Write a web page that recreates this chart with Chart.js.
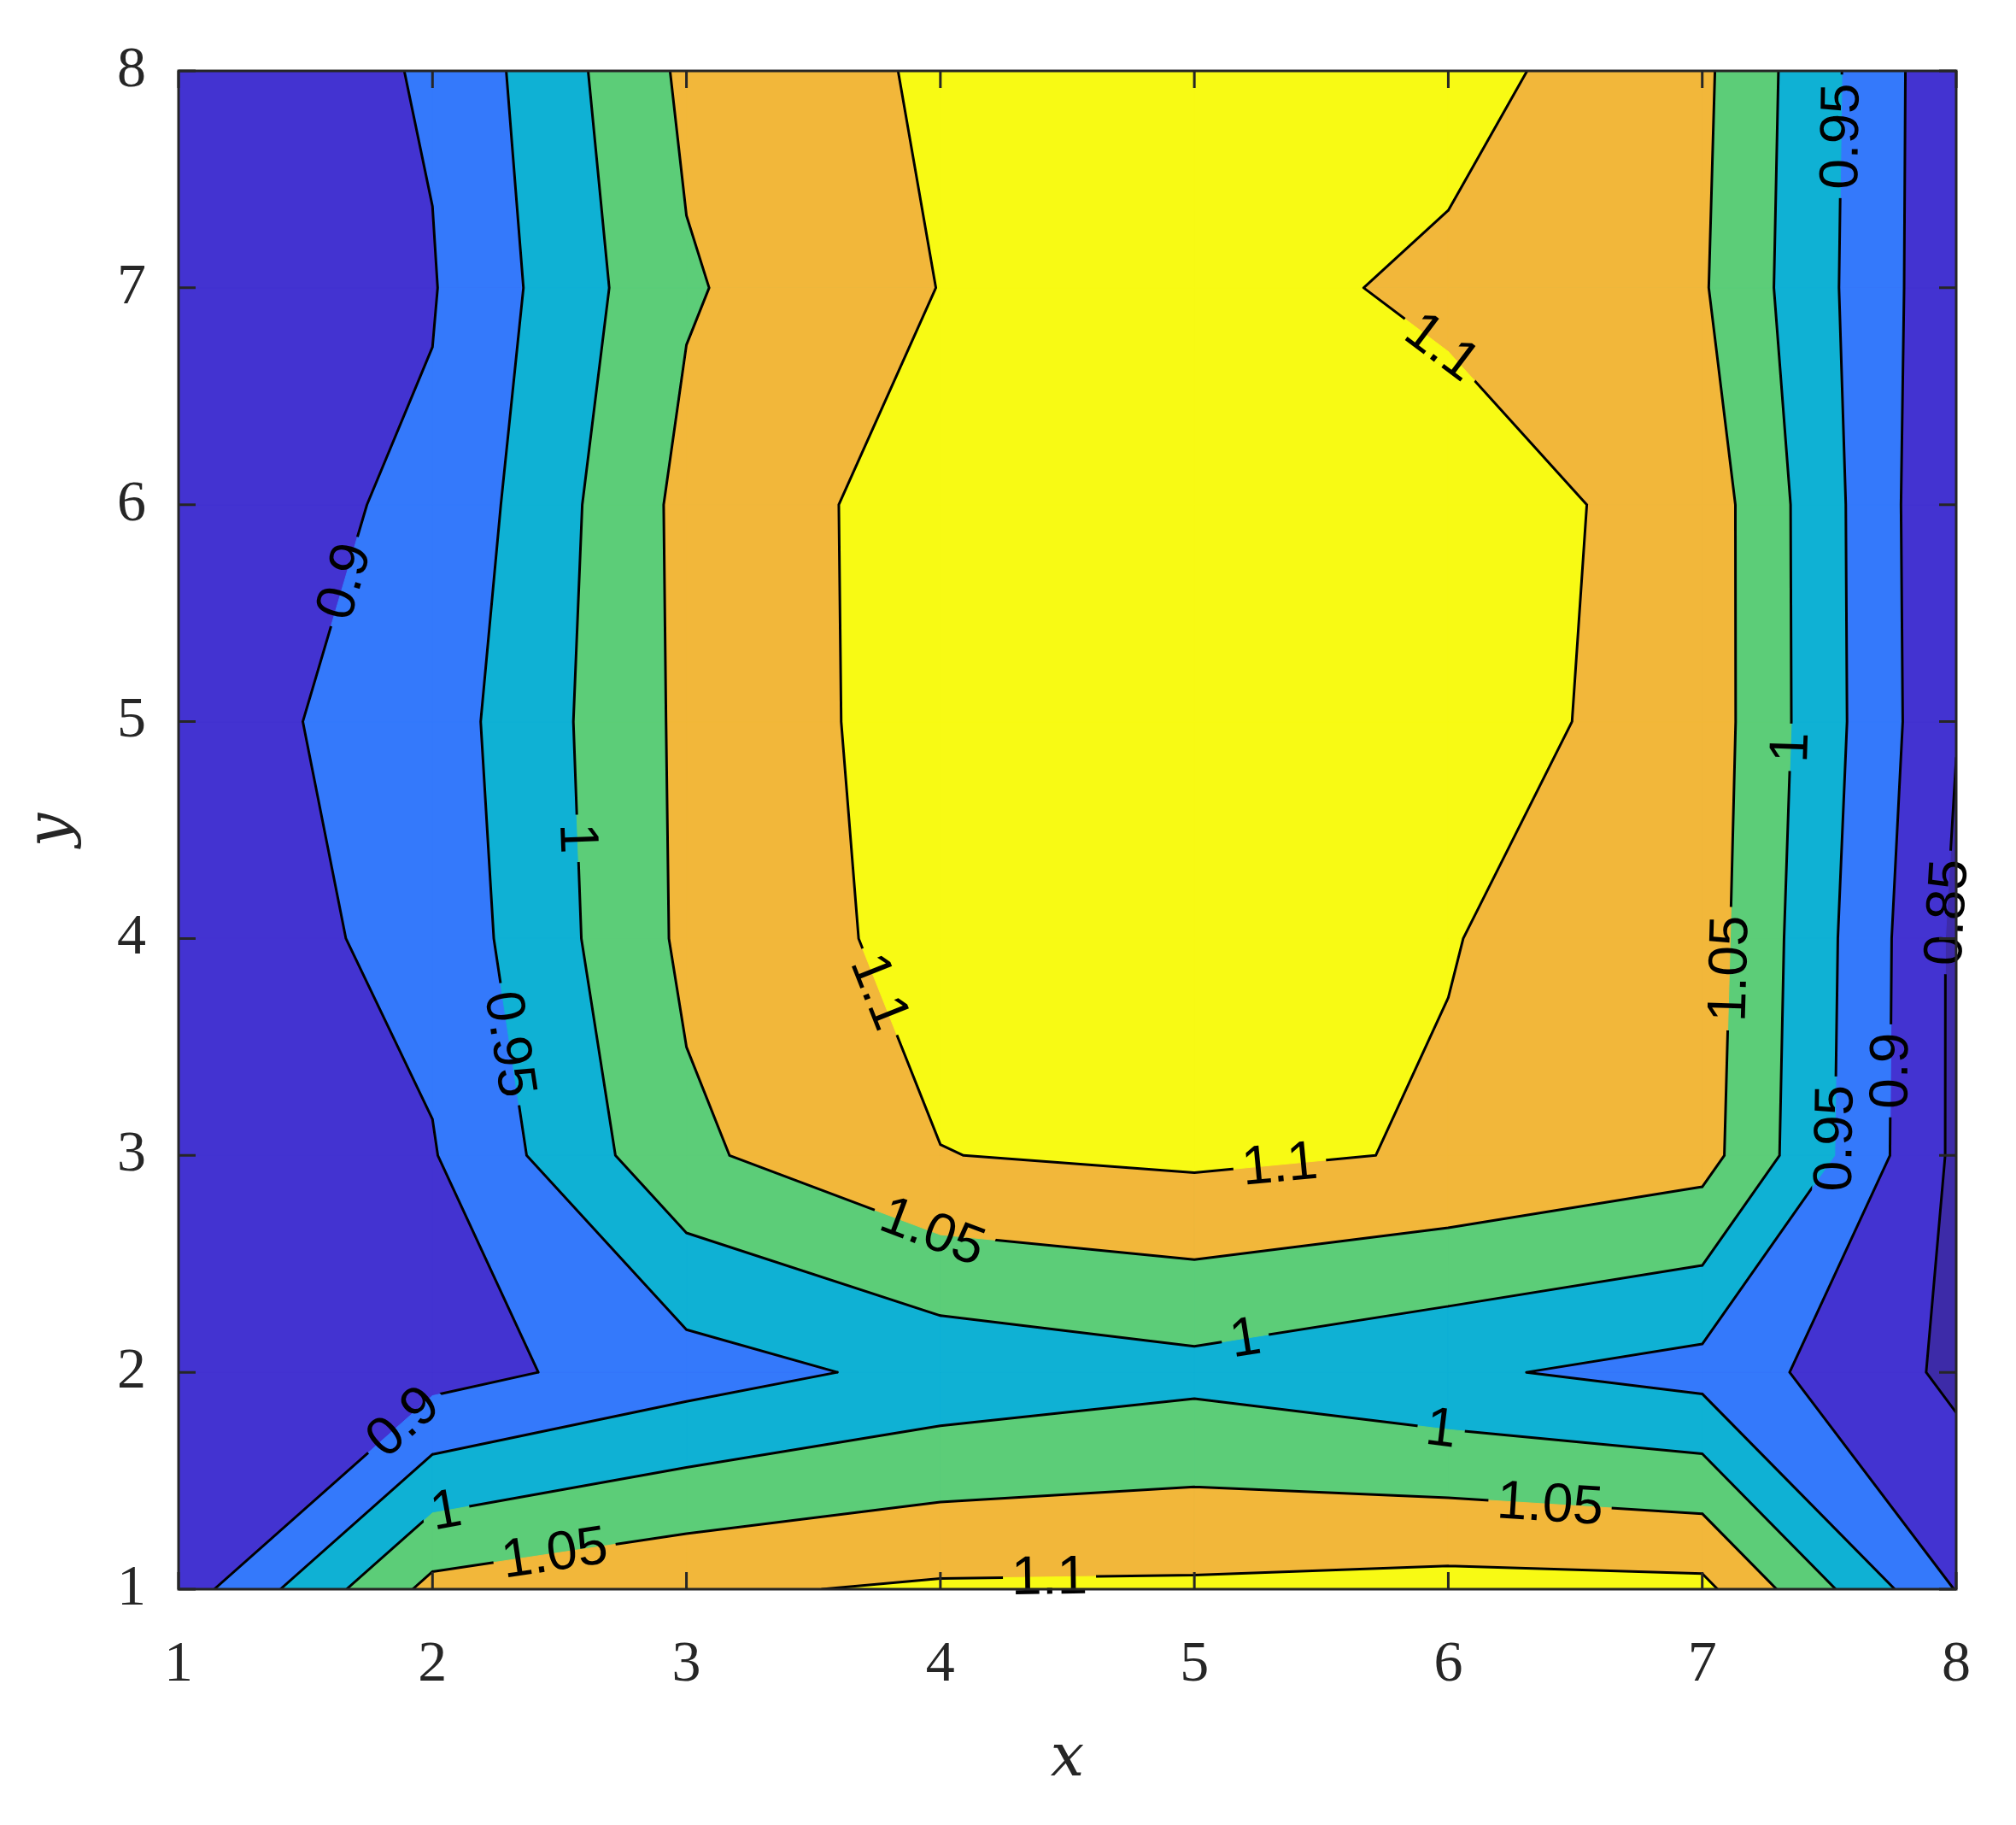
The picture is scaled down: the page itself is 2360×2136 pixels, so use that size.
<!DOCTYPE html>
<html>
<head>
<meta charset="utf-8">
<script src="https://cdn.jsdelivr.net/npm/chart.js@4.4.0/dist/chart.umd.min.js"></script>
<style>
  html, body { margin: 0; padding: 0; background: #fff; }
  #wrap { width: 2360px; height: 2136px; }
</style>
</head>
<body>
<div id="wrap"><canvas id="c"></canvas></div>
<script>
// grid coordinates
const xs = [1, 2, 3, 4, 5, 6, 7, 8];
const ys = [1, 2, 3, 4, 5, 6, 7, 8];
// z values, one row per y (y = 1 first)
const row1 = [0.873, 1.065, 1.092, 1.107, 1.108, 1.117, 1.113, 0.898];
const row2 = [0.860, 0.880, 0.928, 0.965, 0.985, 0.958, 0.932, 0.839];
const row3 = [0.860, 0.897, 1.040, 1.099, 1.110, 1.096, 1.070, 0.840];
const row4 = [0.871, 0.915, 1.060, 1.119, 1.140, 1.1015, 1.076, 0.840];
const row5 = [0.877, 0.924, 1.061, 1.125, 1.140, 1.119, 1.080, 0.852];
const row6 = [0.877, 0.908, 1.064, 1.124, 1.140, 1.124, 1.080, 0.850];
const row7 = [0.860, 0.897, 1.045, 1.101, 1.120, 1.090, 1.055, 0.860];
const row8 = [0.860, 0.905, 1.060, 1.108, 1.130, 1.118, 1.060, 0.860];
const zRows = [row1, row2, row3, row4, row5, row6, row7, row8];

const levels = [0.85, 0.9, 0.95, 1.0, 1.05, 1.1];
const levelText = ['0.85', '0.9', '0.95', '1', '1.05', '1.1'];
const bandColors = ['#3d2ba8', '#4333d1', '#3479fb', '#0fb1d4', '#5ccd78', '#f2b73a', '#f8fa14'];
const tickVals = [1, 2, 3, 4, 5, 6, 7, 8];

// contour label anchors: [level index, x, y]
const labels = [
  [1, 1.67, 5.64], [1, 1.90, 1.75], [3, 2.53, 4.46], [2, 2.29, 3.51],
  [3, 2.05, 1.38], [4, 2.48, 1.17], [5, 3.73, 3.74], [4, 3.96, 2.62],
  [5, 5.34, 2.91], [3, 5.20, 2.16], [3, 5.97, 1.72], [4, 6.40, 1.38],
  [5, 4.43, 1.02], [5, 5.99, 6.75], [2, 7.45, 7.70], [3, 7.38, 4.88],
  [4, 7.13, 3.86], [0, 7.97, 4.12], [1, 7.72, 3.39], [2, 7.49, 3.08]
];

// clip a polygon of {x,y,z} to z >= lev
function clipUp(poly, lev) {
  const out = [];
  for (let i = 0; i < poly.length; i++) {
    const a = poly[i], b = poly[(i + 1) % poly.length];
    const ain = a.z >= lev, bin = b.z >= lev;
    if (ain) out.push(a);
    if (ain !== bin) {
      const t = (lev - a.z) / (b.z - a.z);
      out.push({ x: a.x + t * (b.x - a.x), y: a.y + t * (b.y - a.y), z: lev, cut: true });
    }
  }
  return out;
}

function cells() {
  const list = [];
  for (let j = 0; j < ys.length - 1; j++) {
    for (let i = 0; i < xs.length - 1; i++) {
      list.push([
        { x: xs[i], y: ys[j], z: zRows[j][i] },
        { x: xs[i + 1], y: ys[j], z: zRows[j][i + 1] },
        { x: xs[i + 1], y: ys[j + 1], z: zRows[j + 1][i + 1] },
        { x: xs[i], y: ys[j + 1], z: zRows[j + 1][i] }
      ]);
    }
  }
  return list;
}

// contour segments per level
function segments(lev) {
  const segs = [];
  cells().forEach(c => {
    const p = clipUp(c, lev).filter(v => v.cut);
    for (let k = 0; k + 1 < p.length; k += 2) segs.push([p[k], p[k + 1]]);
  });
  return segs;
}

const contourPlugin = {
  id: 'contour',
  beforeDatasetsDraw(chart) {
    const { ctx, chartArea: a, scales: { x, y } } = chart;
    const px = v => x.getPixelForValue(v.x), py = v => y.getPixelForValue(v.y);
    ctx.save();
    ctx.beginPath();
    ctx.rect(a.left, a.top, a.right - a.left, a.bottom - a.top);
    ctx.clip();
    ctx.fillStyle = bandColors[0];
    ctx.fillRect(a.left, a.top, a.right - a.left, a.bottom - a.top);
    levels.forEach((lev, li) => {
      ctx.fillStyle = bandColors[li + 1];
      ctx.strokeStyle = bandColors[li + 1];
      ctx.lineWidth = 1;
      cells().forEach(c => {
        const p = clipUp(c, lev);
        if (p.length < 3) return;
        ctx.beginPath();
        p.forEach((v, k) => k ? ctx.lineTo(px(v), py(v)) : ctx.moveTo(px(v), py(v)));
        ctx.closePath();
        ctx.fill();
        ctx.stroke();
      });
    });

    // label placement on nearest contour point
    const placed = [];
    ctx.font = '64px "Liberation Sans", Arial, sans-serif';
    labels.forEach(([li, lx, ly]) => {
      const segs = segments(levels[li]);
      const tx = x.getPixelForValue(lx), ty = y.getPixelForValue(ly);
      let best = null;
      segs.forEach(s => {
        const ax = px(s[0]), ay = py(s[0]), bx = px(s[1]), by = py(s[1]);
        const dx = bx - ax, dy = by - ay, L = dx * dx + dy * dy || 1;
        let t = ((tx - ax) * dx + (ty - ay) * dy) / L;
        t = Math.max(0, Math.min(1, t));
        const qx = ax + t * dx, qy = ay + t * dy;
        const d = (qx - tx) ** 2 + (qy - ty) ** 2;
        if (!best || d < best.d) best = { d, qx, qy, ang: Math.atan2(dy, dx) };
      });
      if (!best) return;
      let ang = best.ang;
      if (ang > Math.PI / 2) ang -= Math.PI;
      if (ang < -Math.PI / 2) ang += Math.PI;
      const w = ctx.measureText(levelText[li]).width + 20;
      placed.push({ x: best.qx, y: best.qy, ang, w, text: levelText[li] });
    });

    // contour lines with gaps for labels
    ctx.save();
    ctx.beginPath();
    ctx.rect(a.left - 5, a.top - 5, a.right - a.left + 10, a.bottom - a.top + 10);
    placed.forEach(p => {
      const c = Math.cos(p.ang), s = Math.sin(p.ang), hw = p.w / 2, hh = 26;
      const pts = [[-hw, -hh], [-hw, hh], [hw, hh], [hw, -hh]].map(([u, v]) => [p.x + u * c - v * s, p.y + u * s + v * c]);
      ctx.moveTo(pts[0][0], pts[0][1]);
      pts.slice(1).forEach(q => ctx.lineTo(q[0], q[1]));
      ctx.closePath();
    });
    ctx.clip('evenodd');
    ctx.strokeStyle = '#000';
    ctx.lineWidth = 3;
    ctx.lineCap = 'round';
    levels.forEach(lev => {
      ctx.beginPath();
      segments(lev).forEach(s => { ctx.moveTo(px(s[0]), py(s[0])); ctx.lineTo(px(s[1]), py(s[1])); });
      ctx.stroke();
    });
    ctx.restore();
    ctx.restore();

    ctx.save();
    ctx.fillStyle = '#000';
    ctx.font = '64px "Liberation Sans", Arial, sans-serif';
    ctx.textAlign = 'center';
    ctx.textBaseline = 'middle';
    placed.forEach(p => {
      ctx.save();
      ctx.translate(p.x, p.y);
      ctx.rotate(p.ang);
      ctx.fillText(p.text, 0, 2);
      ctx.restore();
    });
    ctx.restore();
  },
  afterDraw(chart) {
    const { ctx, chartArea: a, scales: { x, y } } = chart;
    ctx.save();
    ctx.strokeStyle = '#262626';
    ctx.lineWidth = 3;
    ctx.strokeRect(a.left, a.top, a.right - a.left, a.bottom - a.top);
    ctx.beginPath();
    tickVals.forEach(v => {
      const X = x.getPixelForValue(v), Y = y.getPixelForValue(v);
      ctx.moveTo(X, a.bottom); ctx.lineTo(X, a.bottom - 20);
      ctx.moveTo(X, a.top); ctx.lineTo(X, a.top + 20);
      ctx.moveTo(a.left, Y); ctx.lineTo(a.left + 20, Y);
      ctx.moveTo(a.right, Y); ctx.lineTo(a.right - 20, Y);
    });
    ctx.stroke();
    ctx.fillStyle = '#262626';
    ctx.font = 'italic 70px "DejaVu Serif", "Liberation Serif", serif';
    ctx.textAlign = 'center';
    ctx.textBaseline = 'middle';
    ctx.fillText('x', (a.left + a.right) / 2, 2060);
    ctx.translate(62, (a.top + a.bottom) / 2);
    ctx.rotate(-Math.PI / 2);
    ctx.fillText('y', 0, 0);
    ctx.restore();
  }
};

const tickFont = { family: '"Liberation Serif", "DejaVu Serif", serif', size: 68 };

new Chart(document.getElementById('c'), {
  type: 'scatter',
  data: {
    datasets: [{
      data: xs.flatMap(xv => ys.map(yv => ({ x: xv, y: yv }))),
      pointRadius: 0
    }]
  },
  options: {
    responsive: true,
    maintainAspectRatio: false,
    devicePixelRatio: 1,
    animation: false,
    layout: { padding: { left: 0, top: 83, right: 70, bottom: 0 } },
    plugins: { legend: { display: false }, tooltip: { enabled: false } },
    scales: {
      x: {
        type: 'linear', min: 1, max: 8,
        grid: { display: false }, border: { display: false },
        ticks: { stepSize: 1, color: '#262626', font: tickFont, padding: 40 },
        afterFit: s => { s.height = 276; }
      },
      y: {
        type: 'linear', min: 1, max: 8,
        grid: { display: false }, border: { display: false },
        ticks: { stepSize: 1, color: '#262626', font: tickFont, padding: 30 },
        afterFit: s => { s.width = 209; }
      }
    }
  },
  plugins: [contourPlugin]
});
</script>
</body>
</html>
